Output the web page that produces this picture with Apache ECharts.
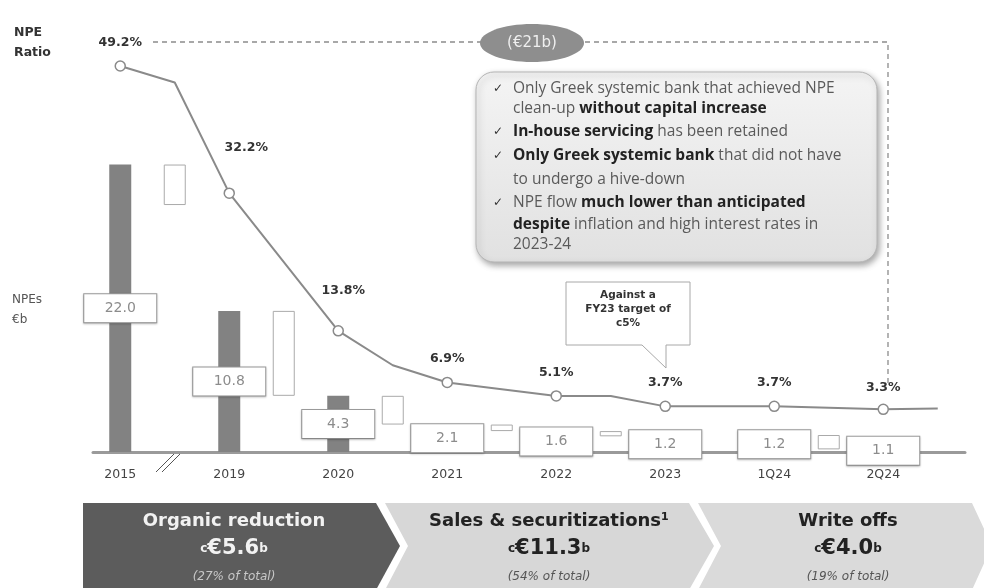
<!DOCTYPE html>
<html>
<head>
<meta charset="utf-8">
<title>NPE reduction</title>
<script src="https://cdn.jsdelivr.net/npm/echarts@6.0.0/dist/echarts.min.js"></script>
<style>
  html, body { margin: 0; padding: 0; background: #fff; }
  #chart { width: 984px; height: 588px; }
</style>
</head>
<body>
<div id="chart"></div>
<script>
// data
const periods = ["2015", "2019", "2020", "2021", "2022", "2023", "1Q24", "2Q24"];
const npeStock = [22.0, 10.8, 4.3, 2.1, 1.6, 1.2, 1.2, 1.1]; // €b
const npeRatio = [49.2, 32.2, 13.8, 6.9, 5.1, 3.7, 3.7, 3.3]; // %
// ratio line between the periods (null = straight on)
const ratioBetween = [47.0, null, 9.2, null, 5.1, null, null, 3.4];
// outline boxes between the bars (top / bottom in €b)
const dropTop = [22.0, 10.8, 4.3, 2.1, 1.6, null, 1.3];
const dropBottom = [18.9, 4.3, 2.1, 1.6, 1.2, null, 0.2];

const DJ = "'DejaVu Sans', sans-serif";
const WIDE = "'Open Sans', 'Noto Sans', sans-serif";

// one slot per period + one slot after it
let slots = [], barData = [], lineData = [], baseData = [], dropData = [];
periods.forEach(function (p, i) {
  slots.push(p);
  barData.push(npeStock[i]);
  lineData.push(npeRatio[i]);
  baseData.push("-");
  dropData.push("-");
  slots.push("");
  barData.push("-");
  lineData.push(ratioBetween[i]);
  if (dropTop[i] != null) {
    baseData.push(dropBottom[i]);
    dropData.push(+(dropTop[i] - dropBottom[i]).toFixed(2));
  } else {
    baseData.push("-");
    dropData.push("-");
  }
});
// last box sits a bit lower in the original
barData[14] = { value: barData[14], label: { offset: [0, 6] } };

// label nudges for the ratio labels
const ratioOffsets = { 2: [17, -22], 4: [5, -17], 14: [0, 2] };

let myChart = echarts.init(document.getElementById("chart"));

let calloutLines = [
  { y: 89, tick: true, t: "Only Greek systemic bank that achieved NPE" },
  { y: 109, t: "clean-up {b|without capital increase}" },
  { y: 132, tick: true, t: "{b|In-house servicing} has been retained" },
  { y: 156, tick: true, t: "{b|Only Greek systemic bank} that did not have" },
  { y: 180, t: "to undergo a hive-down" },
  { y: 203, tick: true, t: "NPE flow {b|much lower than anticipated}" },
  { y: 225, t: "{b|despite} inflation and high interest rates in" },
  { y: 245, t: "2023-24" },
];

let graphics = [
  // left captions
  { type: "text", x: 14, y: 33, style: { text: "NPE", font: "bold 12.5px " + DJ, fill: "#333", verticalAlign: "middle" } },
  { type: "text", x: 14, y: 53, style: { text: "Ratio", font: "bold 12.5px " + DJ, fill: "#333", verticalAlign: "middle" } },
  { type: "text", x: 12, y: 300, style: { text: "NPEs", font: "12px " + DJ, fill: "#555", verticalAlign: "middle" } },
  { type: "text", x: 12, y: 320, style: { text: "€b", font: "12px " + DJ, fill: "#555", verticalAlign: "middle" } },
  // dashed bracket
  {
    type: "polyline",
    shape: { points: [[153, 42], [888, 42], [888, 385]] },
    style: { stroke: "#8c8c8c", lineWidth: 1.3, lineDash: [5, 4], fill: null },
  },
  { type: "ellipse", shape: { cx: 532, cy: 43, rx: 52, ry: 19 }, style: { fill: "#8e8e8e" } },
  {
    type: "text", x: 532, y: 43,
    style: { text: "(€21b)", font: "15px " + DJ, fill: "#efefef", align: "center", verticalAlign: "middle" },
  },
  // callout box
  {
    type: "rect",
    shape: { x: 476, y: 72, width: 401, height: 190, r: 18 },
    style: {
      fill: new echarts.graphic.LinearGradient(0, 0, 0, 1, [
        { offset: 0, color: "#f4f4f4" },
        { offset: 1, color: "#e1e1e1" },
      ]),
      stroke: "#b5b5b5",
      lineWidth: 1,
      shadowBlur: 6,
      shadowOffsetX: 2,
      shadowOffsetY: 3,
      shadowColor: "rgba(0,0,0,0.35)",
    },
  },
  // speech bubble
  {
    type: "polygon",
    shape: { points: [[566, 282], [690, 282], [690, 345], [666, 345], [666, 368], [642, 345], [566, 345]] },
    style: { fill: "#fff", stroke: "#a8a8a8", lineWidth: 1 },
  },
  { type: "text", x: 628, y: 295, style: { text: "Against a", font: "bold 10.5px " + DJ, fill: "#333", align: "center", verticalAlign: "middle" } },
  { type: "text", x: 628, y: 309, style: { text: "FY23 target of", font: "bold 10.5px " + DJ, fill: "#333", align: "center", verticalAlign: "middle" } },
  { type: "text", x: 628, y: 323, style: { text: "c5%", font: "bold 10.5px " + DJ, fill: "#333", align: "center", verticalAlign: "middle" } },
  // axis break
  { type: "line", shape: { x1: 156, y1: 472, x2: 175, y2: 453 }, style: { stroke: "#555", lineWidth: 1 } },
  { type: "line", shape: { x1: 162, y1: 472, x2: 181, y2: 453 }, style: { stroke: "#555", lineWidth: 1 } },
  // bottom chevrons
  {
    type: "polygon",
    shape: { points: [[83, 503], [376, 503], [400, 546], [376, 590], [83, 590]] },
    style: { fill: "#5c5c5c" },
  },
  {
    type: "polygon",
    shape: { points: [[385, 503], [689, 503], [714, 546], [689, 590], [385, 590], [408, 546]] },
    style: { fill: "#d7d7d7" },
  },
  {
    type: "polygon",
    shape: { points: [[698, 503], [972, 503], [992, 546], [972, 590], [698, 590], [721, 546]] },
    style: { fill: "#dadada" },
  },
];

calloutLines.forEach(function (l) {
  if (l.tick) {
    graphics.push({
      type: "text", x: 493, y: l.y,
      style: { text: "✓", font: "bold 12px " + DJ, fill: "#333", verticalAlign: "middle" },
    });
  }
  graphics.push({
    type: "text", x: 513, y: l.y,
    style: {
      text: l.t,
      font: "15.5px " + WIDE,
      fill: "#5a5a5a",
      verticalAlign: "middle",
      rich: { b: { font: "bold 15.5px " + WIDE, fill: "#222", color: "#222" } },
    },
  });
});

// chevron texts
let chevrons = [
  { x: 234, title: "Organic reduction", amount: "€5.6", share: "(27% of total)", dark: true },
  { x: 549, title: "Sales & securitizations¹", amount: "€11.3", share: "(54% of total)" },
  { x: 848, title: "Write offs", amount: "€4.0", share: "(19% of total)" },
];
chevrons.forEach(function (c) {
  let main = c.dark ? "#f2f2f2" : "#222";
  let sub = c.dark ? "#c8c8c8" : "#555";
  graphics.push({
    type: "text", x: c.x, y: 521,
    style: { text: c.title, font: "bold 18px " + DJ, fill: main, align: "center", verticalAlign: "middle" },
  });
  graphics.push({
    type: "text", x: c.x, y: 549,
    style: {
      text: "{s|c}{m|" + c.amount + "}{s|b}",
      align: "center", verticalAlign: "middle",
      rich: {
        s: { font: "bold 12px " + DJ, fill: main, color: main, verticalAlign: "bottom", padding: [0, 0, 5, 0] },
        m: { font: "bold 21px " + DJ, fill: main, color: main },
      },
    },
  });
  graphics.push({
    type: "text", x: c.x, y: 577,
    style: { text: c.share, font: "italic 12px " + DJ, fill: sub, align: "center", verticalAlign: "middle" },
  });
});

let option = {
  animation: false,
  backgroundColor: "#fff",
  textStyle: { fontFamily: DJ },
  grid: { left: 93, right: 19, top: 60, bottom: 136 },
  xAxis: {
    type: "category",
    data: slots,
    axisLine: { lineStyle: { color: "#9a9a9a", width: 3 } },
    axisTick: { show: false },
    axisLabel: { color: "#444", fontSize: 12.5, margin: 16, interval: 0 },
  },
  yAxis: [
    { type: "value", min: 0, max: 30, show: false },
    { type: "value", min: -2.4, max: 50, show: false },
  ],
  series: [
    {
      name: "NPEs",
      type: "bar",
      data: barData,
      barWidth: 22,
      barGap: "-100%",
      itemStyle: { color: "#828282" },
      label: {
        show: true,
        position: "inside",
        formatter: function (p) { return p.value.toFixed(1); },
        color: "#8c8c8c",
        fontSize: 14,
        backgroundColor: "#fff",
        borderColor: "#9c9c9c",
        borderWidth: 1,
        width: 72,
        height: 28,
        lineHeight: 28,
        align: "center",
        shadowColor: "rgba(0,0,0,0.2)",
        shadowBlur: 2,
        shadowOffsetY: 1,
      },
      z: 2,
    },
    {
      name: "base",
      type: "bar",
      stack: "wf",
      data: baseData,
      barWidth: 22,
      itemStyle: { color: "transparent" },
      silent: true,
    },
    {
      name: "drop",
      type: "bar",
      stack: "wf",
      data: dropData,
      barWidth: 22,
      itemStyle: { color: "#fff", borderColor: "#aaaaaa", borderWidth: 1 },
    },
    {
      name: "NPE ratio",
      type: "line",
      yAxisIndex: 1,
      data: lineData,
      connectNulls: true,
      symbol: "circle",
      symbolSize: function (v, p) { return p.dataIndex % 2 ? 0 : 10; },
      lineStyle: { color: "#8a8a8a", width: 2 },
      itemStyle: { color: "#fff", borderColor: "#8a8a8a", borderWidth: 1.5 },
      label: {
        show: true,
        position: "top",
        distance: 11,
        fontWeight: "bold",
        fontSize: 12.5,
        color: "#333",
        formatter: function (p) { return p.dataIndex % 2 ? "" : p.value.toFixed(1) + "%"; },
      },
      labelLayout: function (p) {
        let o = ratioOffsets[p.dataIndex];
        if (!o) return {};
        return { x: p.labelRect.x + o[0], y: p.labelRect.y + o[1] };
      },
      z: 5,
    },
  ],
  graphic: graphics,
};

myChart.setOption(option);
window.addEventListener("resize", function () {
  myChart.resize();
});
</script>
</body>
</html>
